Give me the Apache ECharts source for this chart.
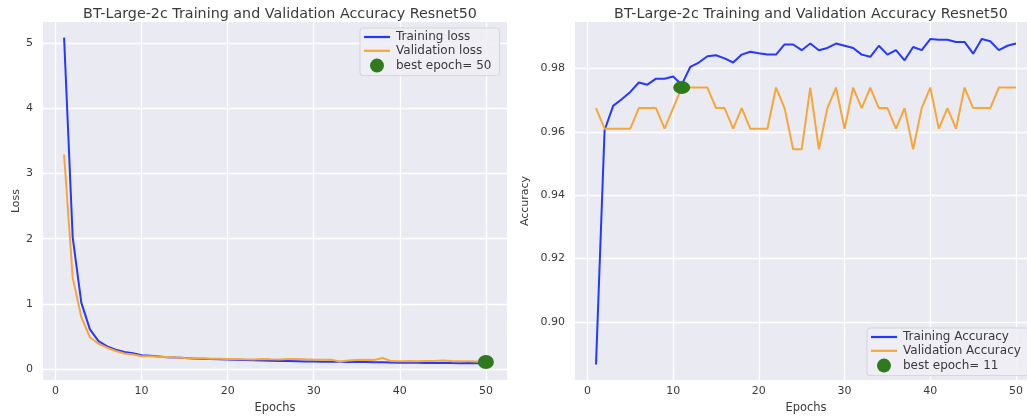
<!DOCTYPE html>
<html>
<head>
<meta charset="utf-8">
<script src="https://cdn.jsdelivr.net/npm/echarts@6/dist/echarts.min.js"></script>
<style>
  html, body { margin: 0; padding: 0; background: #ffffff; }
  #chart { width: 1027px; height: 416px; }
</style>
</head>
<body>
<div id="chart"></div>
<script>
// Epoch numbers shared by both panels
const epochs = [1, 2, 3, 4, 5, 6, 7, 8, 9, 10, 11, 12, 13, 14, 15, 16, 17, 18, 19, 20,
  21, 22, 23, 24, 25, 26, 27, 28, 29, 30, 31, 32, 33, 34, 35, 36, 37, 38, 39, 40,
  41, 42, 43, 44, 45, 46, 47, 48, 49, 50];

// Loss per epoch
const trainLoss = [5.08, 2.02, 1.02, 0.61, 0.43, 0.35, 0.30, 0.265, 0.245, 0.215,
  0.205, 0.195, 0.185, 0.178, 0.172, 0.166, 0.162, 0.158, 0.152, 0.148,
  0.146, 0.142, 0.138, 0.132, 0.130, 0.128, 0.126, 0.124, 0.118, 0.118,
  0.116, 0.115, 0.113, 0.112, 0.111, 0.110, 0.108, 0.106, 0.103, 0.100,
  0.099, 0.098, 0.097, 0.096, 0.097, 0.094, 0.093, 0.094, 0.092, 0.090];
const valLoss = [3.29, 1.40, 0.80, 0.49, 0.39, 0.33, 0.28, 0.24, 0.225, 0.200,
  0.198, 0.190, 0.188, 0.180, 0.172, 0.168, 0.168, 0.162, 0.160, 0.158,
  0.156, 0.152, 0.150, 0.155, 0.152, 0.150, 0.155, 0.158, 0.152, 0.148,
  0.145, 0.147, 0.118, 0.135, 0.140, 0.145, 0.140, 0.172, 0.125, 0.124,
  0.125, 0.123, 0.126, 0.128, 0.133, 0.128, 0.124, 0.122, 0.120, 0.110];

// Accuracy per epoch
const trainAcc = [0.8865, 0.9605, 0.9682, 0.9703, 0.9726, 0.9756, 0.9749, 0.9768, 0.9768, 0.9775,
  0.9749, 0.9805, 0.9819, 0.9839, 0.9842, 0.9832, 0.9819, 0.9844, 0.9853, 0.9848,
  0.9844, 0.9844, 0.9876, 0.9876, 0.9858, 0.9879, 0.9858, 0.9865, 0.9879, 0.9872,
  0.9865, 0.9844, 0.9837, 0.9872, 0.9844, 0.9858, 0.9826, 0.9868, 0.9858, 0.9893,
  0.9891, 0.9891, 0.9884, 0.9884, 0.9847, 0.9893, 0.9886, 0.9858, 0.9872, 0.9879];
const valAcc = [0.9675, 0.9610, 0.9610, 0.9610, 0.9610, 0.9675, 0.9675, 0.9675, 0.9610, 0.9675,
  0.9740, 0.9740, 0.9740, 0.9740, 0.9675, 0.9675, 0.9610, 0.9675, 0.9610, 0.9610,
  0.9610, 0.9740, 0.9675, 0.9545, 0.9545, 0.9740, 0.9545, 0.9675, 0.9740, 0.9610,
  0.9740, 0.9675, 0.9740, 0.9675, 0.9675, 0.9610, 0.9675, 0.9545, 0.9675, 0.9740,
  0.9610, 0.9675, 0.9610, 0.9740, 0.9675, 0.9675, 0.9675, 0.9740, 0.9740, 0.9740];

// Tick positions
const xTicks = [0, 10, 20, 30, 40, 50];
const lossTicks = [0, 1, 2, 3, 4, 5];
const accTicks = [0.90, 0.92, 0.94, 0.96, 0.98];

const titleText = 'BT-Large-2c Training and Validation Accuracy Resnet50';

// Best epochs: lowest validation loss, highest validation accuracy (first occurrence)
let lossBestIdx = 0;
valLoss.forEach((v, i) => { if (v <= valLoss[lossBestIdx]) lossBestIdx = i; });
let accBestIdx = 0;
valAcc.forEach((v, i) => { if (v > valAcc[accBestIdx]) accBestIdx = i; });

const pairs = (vals) => vals.map((v, i) => [epochs[i], v]);

const FONT = 'DejaVu Sans';
const TEXT = '#3a3a3a';
const BLUE = '#2438ff';
const ORANGE = '#f7a63a';
const GREEN = '#2f7a1c';
const BG = '#eaeaf2';
// Plain line swatch for legend entries of line series
const LINE_ICON = 'path://M0,0 L26,0 L26,2.2 L0,2.2 Z';

function xAxisFor(gridIndex) {
  return {
    type: 'value', gridIndex, min: -1.45, max: 52.45,
    name: 'Epochs', nameLocation: 'middle', nameGap: 20,
    nameTextStyle: { fontFamily: FONT, fontSize: 11.5, color: TEXT },
    axisLine: { show: false },
    axisTick: { show: false, customValues: xTicks },
    axisLabel: { customValues: xTicks, fontFamily: FONT, fontSize: 11, color: TEXT, margin: 6 },
    splitLine: { show: true, lineStyle: { color: '#ffffff', width: 1.3 } }
  };
}

function yAxisFor(gridIndex, min, max, ticks, name, nameGap, fmt) {
  return {
    type: 'value', gridIndex, min, max,
    name, nameLocation: 'middle', nameGap, nameRotate: 90,
    nameTextStyle: { fontFamily: FONT, fontSize: 11, color: TEXT },
    axisLine: { show: false },
    axisTick: { show: false, customValues: ticks },
    axisLabel: { customValues: ticks, fontFamily: FONT, fontSize: 11, color: TEXT, margin: 10, formatter: fmt },
    splitLine: { show: true, lineStyle: { color: '#ffffff', width: 1.3 } }
  };
}

function lineSeries(name, vals, color, axisIdx) {
  return {
    type: 'line', name, data: pairs(vals), xAxisIndex: axisIdx, yAxisIndex: axisIdx,
    symbol: 'none', lineStyle: { color, width: 2 }, itemStyle: { color },
    animation: false, z: 3
  };
}

const legendCommon = {
  orient: 'vertical', itemWidth: 26, itemHeight: 14, itemGap: 1.8,
  symbolKeepAspect: true,
  backgroundColor: 'rgba(238,238,244,0.9)', borderColor: '#d4d4dc', borderWidth: 1,
  borderRadius: 3, padding: [3, 8, 3, 4],
  textStyle: { fontFamily: FONT, fontSize: 12, color: TEXT, padding: [0, 0, 0, 1] }
};

const lossBestName = 'best epoch= ' + epochs[lossBestIdx];
const accBestName = 'best epoch= ' + epochs[accBestIdx];

const chart = echarts.init(document.getElementById('chart'), null, { renderer: 'canvas' });
chart.setOption({
  backgroundColor: '#ffffff',
  animation: false,
  title: [
    { text: titleText, left: 275, top: 2, textAlign: 'center',
      textStyle: { fontFamily: FONT, fontSize: 14.3, fontWeight: 'normal', color: TEXT } },
    { text: titleText, left: 806, top: 2, textAlign: 'center',
      textStyle: { fontFamily: FONT, fontSize: 14.3, fontWeight: 'normal', color: TEXT } }
  ],
  grid: [
    { left: 43, top: 22, width: 464, height: 358, show: true, backgroundColor: BG,
      borderWidth: 0, containLabel: false, outerBoundsMode: 'none' },
    { left: 575, top: 22, width: 462, height: 358, show: true, backgroundColor: BG,
      borderWidth: 0, containLabel: false, outerBoundsMode: 'none' }
  ],
  xAxis: [xAxisFor(0), xAxisFor(1)],
  yAxis: [
    yAxisFor(0, -0.165, 5.32, lossTicks, 'Loss', 21, (v) => String(v)),
    yAxisFor(1, 0.8816, 0.9947, accTicks, 'Accuracy', 44, (v) => v.toFixed(2))
  ],
  legend: [
    Object.assign({}, legendCommon, {
      left: 360, top: 28,
      data: [
        { name: 'Training loss', icon: LINE_ICON },
        { name: 'Validation loss', icon: LINE_ICON },
        { name: lossBestName, icon: 'circle' }
      ]
    }),
    Object.assign({}, legendCommon, {
      left: 867, top: 328,
      data: [
        { name: 'Training Accuracy', icon: LINE_ICON },
        { name: 'Validation Accuracy', icon: LINE_ICON },
        { name: accBestName, icon: 'circle' }
      ]
    })
  ],
  series: [
    lineSeries('Training loss', trainLoss, BLUE, 0),
    lineSeries('Validation loss', valLoss, ORANGE, 0),
    {
      type: 'scatter', name: lossBestName, xAxisIndex: 0, yAxisIndex: 0,
      data: [[epochs[lossBestIdx], valLoss[lossBestIdx]]],
      symbol: 'circle', symbolSize: [16, 14], itemStyle: { color: GREEN, opacity: 1 }, z: 5
    },
    lineSeries('Training Accuracy', trainAcc, BLUE, 1),
    lineSeries('Validation Accuracy', valAcc, ORANGE, 1),
    {
      type: 'scatter', name: accBestName, xAxisIndex: 1, yAxisIndex: 1,
      data: [[epochs[accBestIdx], valAcc[accBestIdx]]],
      symbol: 'circle', symbolSize: [17, 13], itemStyle: { color: GREEN, opacity: 1 }, z: 5
    }
  ]
});
</script>
</body>
</html>
